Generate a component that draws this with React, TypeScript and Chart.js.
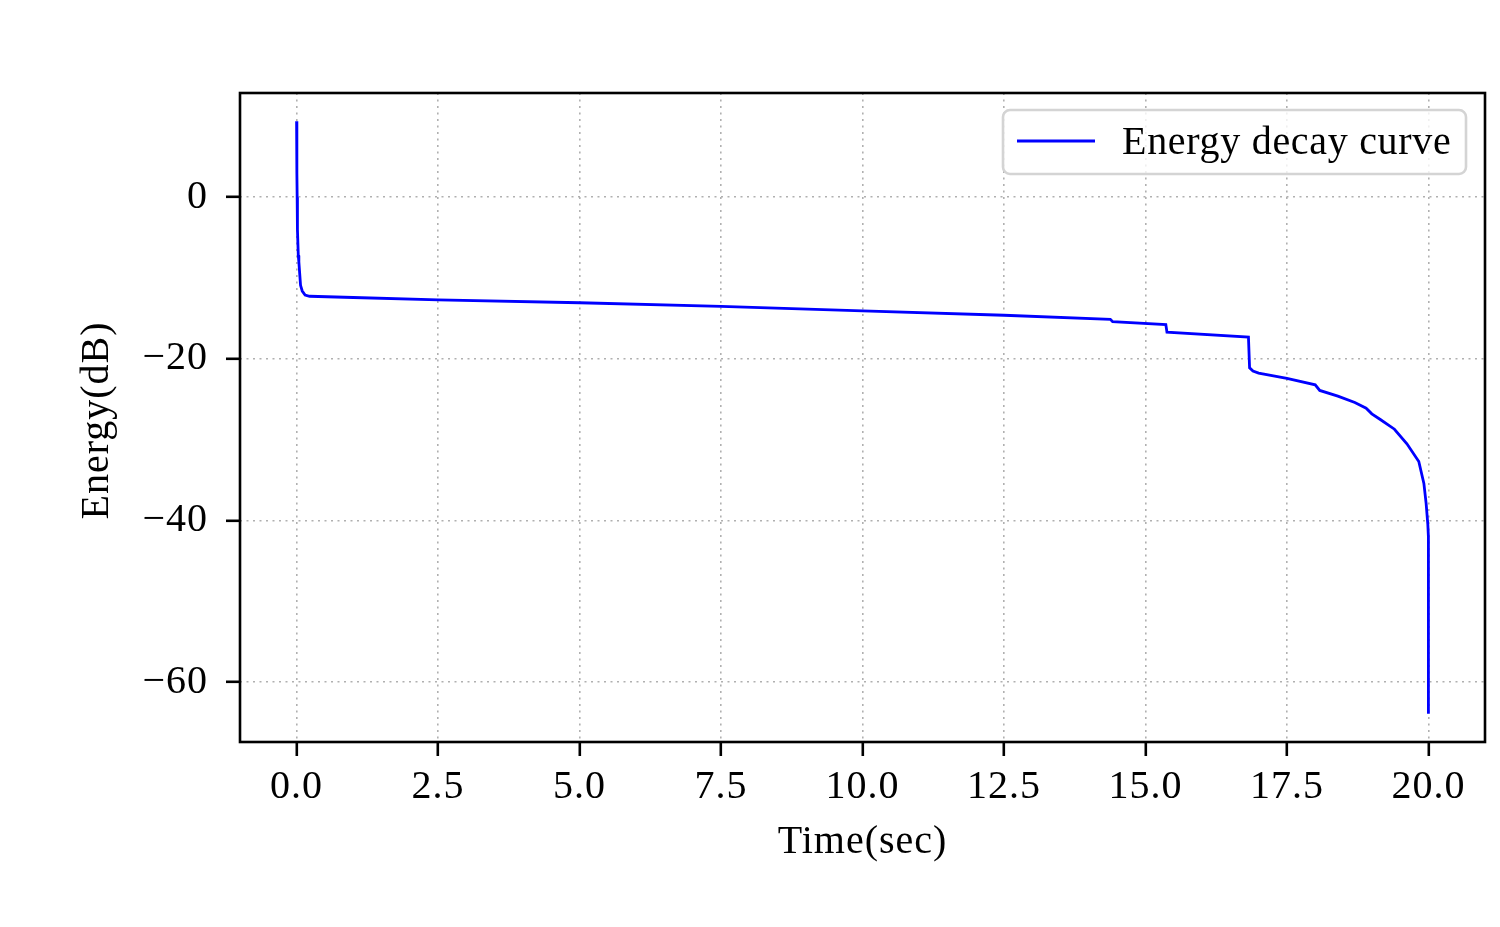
import React, { useEffect, useRef } from "react";
import { Chart, registerables } from "chart.js";

Chart.register(...registerables);

const TIME = [
  0, 0.005, 0.01, 0.015, 0.03, 0.04, 0.07, 0.1, 0.15, 0.23, 1.0, 2.5, 5.0, 7.5,
  10.0, 12.5, 14.38, 14.42, 15.36, 15.38, 16.82, 16.84, 16.9, 17.0, 17.5, 18.0,
  18.08, 18.4, 18.7, 18.9, 19.0, 19.15, 19.4, 19.62, 19.83, 19.92, 19.96, 19.99,
  20.0, 20.0,
];
const ENERGY = [
  9.4, 3, 0, -4, -7.2, -8, -10.9, -11.6, -12.1, -12.25, -12.4, -12.7, -13.05,
  -13.5, -14.05, -14.6, -15.1, -15.4, -15.75, -16.7, -17.3, -21.1, -21.5,
  -21.75, -22.4, -23.2, -23.9, -24.6, -25.4, -26.1, -26.8, -27.5, -28.7, -30.5,
  -32.7, -35.4, -37.9, -40.5, -42, -63.9,
];
const X_TICKS = [0, 2.5, 5, 7.5, 10, 12.5, 15, 17.5, 20];
const Y_TICKS = [0, -20, -40, -60];
const SERIES_LABEL = "Energy decay curve";
const X_TITLE = "Time(sec)";
const Y_TITLE = "Energy(dB)";

const FONT = "'Liberation Serif', 'DejaVu Serif', serif";
const FS = 40;

export default function App() {
  const ref = useRef<HTMLCanvasElement | null>(null);
  useEffect(() => {
    const canvas = ref.current;
    if (!canvas) return;
    const framePlugin = {
      id: "frame",
      beforeDraw(chart: any) {
        (chart.ctx as any).letterSpacing = "1px";
      },
      afterDraw(chart: any) {
        const { ctx, chartArea } = chart;
        const { left, right, top, bottom } = chartArea;
        ctx.save();
        ctx.letterSpacing = "1px";
        ctx.strokeStyle = "#000";
        ctx.lineWidth = 2.6;
        ctx.strokeRect(left, top, right - left, bottom - top);
        // axis titles
        ctx.fillStyle = "#000";
        ctx.font = `${FS}px ${FONT}`;
        ctx.textAlign = "center";
        ctx.textBaseline = "middle";
        ctx.fillText(X_TITLE, (left + right) / 2, 842);
        ctx.save();
        ctx.translate(97, (top + bottom) / 2 + 3);
        ctx.rotate(-Math.PI / 2);
        ctx.fillText(Y_TITLE, 0, 0);
        ctx.restore();
        // legend
        const bx = 1003, by = 110, bw = 463, bh = 64, r = 7;
        ctx.beginPath();
        ctx.moveTo(bx + r, by);
        ctx.arcTo(bx + bw, by, bx + bw, by + bh, r);
        ctx.arcTo(bx + bw, by + bh, bx, by + bh, r);
        ctx.arcTo(bx, by + bh, bx, by, r);
        ctx.arcTo(bx, by, bx + bw, by, r);
        ctx.closePath();
        ctx.fillStyle = "rgba(255,255,255,0.8)";
        ctx.fill();
        ctx.strokeStyle = "#d4d4d4";
        ctx.lineWidth = 2.6;
        ctx.stroke();
        ctx.beginPath();
        ctx.moveTo(1017, 141);
        ctx.lineTo(1095, 141);
        ctx.strokeStyle = "#0000ff";
        ctx.lineWidth = 2.8;
        ctx.stroke();
        ctx.fillStyle = "#000";
        ctx.textAlign = "left";
        ctx.textBaseline = "alphabetic";
        ctx.letterSpacing = "0.7px";
        ctx.fillText(SERIES_LABEL, 1122, 154);
        ctx.restore();
      },
    };
    const chart = new Chart(canvas, {
      type: "line",
      data: {
        datasets: [
          {
            label: SERIES_LABEL,
            data: TIME.map((t, i) => ({ x: t, y: ENERGY[i] })),
            borderColor: "#0000ff",
            borderWidth: 2.8,
            pointRadius: 0,
            tension: 0,
            fill: false,
          },
        ],
      },
      options: {
        responsive: false,
        animation: false,
        devicePixelRatio: 1,
        layout: { padding: { left: 0, top: 93, right: 15, bottom: 0 } },
        plugins: { legend: { display: false }, tooltip: { enabled: false } },
        scales: {
          x: {
            type: "linear",
            min: -1.0,
            max: 21.0,
            afterFit: (s: any) => {
              s.height = 185;
            },
            afterBuildTicks: (s: any) => {
              s.ticks = X_TICKS.map((v) => ({ value: v }));
            },
            ticks: {
              font: { family: FONT, size: FS },
              color: "#000",
              padding: 7,
              maxRotation: 0,
              autoSkip: false,
              callback: (v: any) => Number(v).toFixed(1),
            },
            grid: {
              color: "#b0b0b0",
              lineWidth: 1.6,
              tickColor: "#000",
              tickWidth: 2.6,
              tickLength: 14,
              tickBorderDash: [],
            },
            border: { display: false, dash: [2, 4.5] },
          },
          y: {
            type: "linear",
            min: -67.4,
            max: 12.9,
            afterFit: (s: any) => {
              s.width = 240;
            },
            afterBuildTicks: (s: any) => {
              s.ticks = Y_TICKS.map((v) => ({ value: v }));
            },
            ticks: {
              font: { family: FONT, size: FS },
              color: "#000",
              padding: 18,
              autoSkip: false,
              callback: (v: any) =>
                Number(v) < 0 ? "\u2212" + Math.abs(Number(v)) : String(v),
            },
            grid: {
              color: "#b0b0b0",
              lineWidth: 1.6,
              tickColor: "#000",
              tickWidth: 2.6,
              tickLength: 14,
              tickBorderDash: [],
            },
            border: { display: false, dash: [2, 4.5] },
          },
        },
      },
      plugins: [framePlugin],
    });
    return () => chart.destroy();
  }, []);
  return (
    <div style={{ position: "absolute", left: 0, top: 0, width: 1500, height: 927, background: "#fff" }}>
      <canvas ref={ref} width={1500} height={927} style={{ display: "block", width: 1500, height: 927 }} />
    </div>
  );
}
